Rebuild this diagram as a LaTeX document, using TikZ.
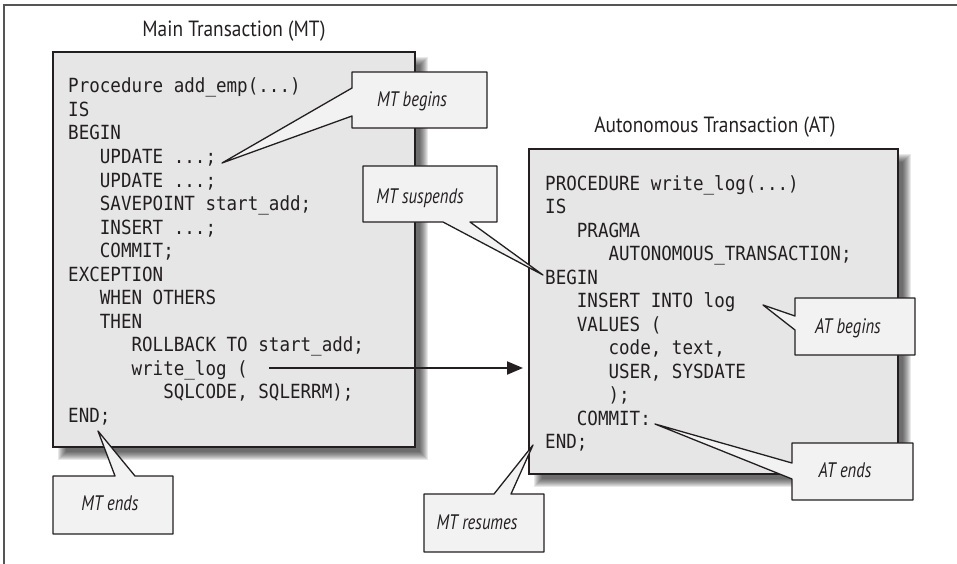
\documentclass[tikz,border=0pt]{standalone}
\usepackage{fontspec}
\setmainfont{PT Sans}
\newfontfamily\titlefont[FakeStretch=0.88]{PT Sans}
\newfontfamily\callfont[FakeStretch=0.79]{PT Sans}
\newfontfamily\codefont[FakeStretch=0.9]{DejaVu Sans Mono}
\usetikzlibrary{arrows.meta}
\definecolor{ink}{HTML}{231F20}
\definecolor{boxfill}{HTML}{E6E6E6}
\definecolor{callfill}{HTML}{F2F2F2}
\definecolor{framec}{HTML}{555555}
\newcommand\ia{\phantom{MMM}}
\newcommand\softshadow[4]{%
  \foreach \r in {-4,...,4}{\fill[black,opacity=0.09] ({#1+9+\r},{#2+9+\r}) rectangle ({#3+9-\r},{#4+9-\r});}}
\begin{document}
\begin{tikzpicture}[x=1pt,y=-1pt,
  codeline/.style={anchor=base west, inner sep=0pt, text=ink, font=\codefont\fontsize{19.5}{23.5}\selectfont},
  codebox/.style={draw=ink, fill=boxfill, line width=2.5pt, inner sep=0pt, outer sep=0pt, anchor=north west},
  callout/.style={draw=ink, fill=callfill, line width=1.3pt, line join=round},
  calltext/.style={anchor=base, inner sep=0pt, text=ink, font=\callfont\itshape\fontsize{21}{24}\selectfont},
  titletext/.style={anchor=base, inner sep=0pt, text=ink, font=\titlefont\fontsize{22}{26}\selectfont},
  flow/.style={draw=ink, line width=2pt, -{Triangle[length=16pt,width=13pt]}}]
\useasboundingbox (0,0) rectangle (957,564);
% outer frame
\draw[framec, line width=1.5pt] (4,564) -- (4,5) -- (957,5);
% titles
\node[titletext] (mttitle) at (234,37) {Main Transaction (MT)};
\node[titletext] (attitle) at (715,133) {Autonomous Transaction (AT)};
% shadows
\softshadow{53}{52}{415}{447}
\softshadow{529}{149}{898}{474}
% boxes
\node[codebox, minimum width=362pt, minimum height=395pt] (mtbox) at (53,52) {};
\node[codebox, minimum width=369pt, minimum height=325pt] (atbox) at (529,149) {};
% main transaction code
\node[codeline] (m0)  at (68,93.0)  {Procedure add\_emp(...)};
\node[codeline] (m1)  at (68,116.5) {IS};
\node[codeline] (m2)  at (68,140.0) {BEGIN};
\node[codeline] (m3)  at (68,163.5) {\ia UPDATE ...;};
\node[codeline] (m4)  at (68,187.0) {\ia UPDATE ...;};
\node[codeline] (m5)  at (68,210.5) {\ia SAVEPOINT start\_add;};
\node[codeline] (m6)  at (68,234.0) {\ia INSERT ...;};
\node[codeline] (m7)  at (68,257.5) {\ia COMMIT;};
\node[codeline] (m8)  at (68,281.0) {EXCEPTION};
\node[codeline] (m9)  at (68,304.5) {\ia WHEN OTHERS};
\node[codeline] (m10) at (68,328.0) {\ia THEN};
\node[codeline] (m11) at (68,351.5) {\ia\ia ROLLBACK TO start\_add;};
\node[codeline] (m12) at (68,375.0) {\ia\ia write\_log (};
\node[codeline] (m13) at (68,398.5) {\ia\ia\ia SQLCODE, SQLERRM);};
\node[codeline] (m14) at (68,422.0) {END;};
% autonomous transaction code
\node[codeline] (a0)  at (545,190.0) {PROCEDURE write\_log(...)};
\node[codeline] (a1)  at (545,213.5) {IS};
\node[codeline] (a2)  at (545,237.0) {\ia PRAGMA};
\node[codeline] (a3)  at (545,260.5) {\ia\ia AUTONOMOUS\_TRANSACTION;};
\node[codeline] (a4)  at (545,284.0) {BEGIN};
\node[codeline] (a5)  at (545,307.5) {\ia INSERT INTO log};
\node[codeline] (a6)  at (545,331.0) {\ia VALUES (};
\node[codeline] (a7)  at (545,354.5) {\ia\ia code, text,};
\node[codeline] (a8)  at (545,378.0) {\ia\ia USER, SYSDATE};
\node[codeline] (a9)  at (545,401.5) {\ia\ia );};
\node[codeline] (a10) at (545,425.0) {\ia COMMIT:};
\node[codeline] (a11) at (545,448.5) {END;};
% call arrow
\draw[flow] ([xshift=21pt,yshift=7pt]m12.base east) -- ([yshift=7pt]m12.base east -| atbox.west)
  [shorten >=6pt];
% callouts
\draw[callout] (352,72) -- (487,72) -- (487,128) -- (352,128) -- (352,116) -- (222,163) -- (352,88) -- cycle;
\node[calltext] (cmtb) at (412,107) {MT begins};
\draw[callout] (363,166) -- (497,166) -- (497,222) -- (470,222) -- (543,275) -- (443,222) -- (363,222) -- cycle;
\node[calltext] (cmts) at (420,203) {MT suspends};
\draw[callout] (53,476) -- (115,476) -- (98,431) -- (135,476) -- (173,476) -- (173,534) -- (53,534) -- cycle;
\node[calltext] (cmte) at (110,510) {MT ends};
\draw[callout] (424,494) -- (494,494) -- (533,445) -- (511,494) -- (544,494) -- (544,552) -- (424,552) -- cycle;
\node[calltext] (cmtr) at (477,529) {MT resumes};
\draw[callout] (795,298) -- (915,298) -- (915,355) -- (795,355) -- (795,330) -- (763,305) -- (795,316) -- cycle;
\node[calltext] (catb) at (848,333) {AT begins};
\draw[callout] (792,443) -- (913,443) -- (913,500) -- (792,500) -- (792,479) -- (655,424) -- (792,463) -- cycle;
\node[calltext] (cate) at (845,477) {AT ends};
\end{tikzpicture}
\end{document}
